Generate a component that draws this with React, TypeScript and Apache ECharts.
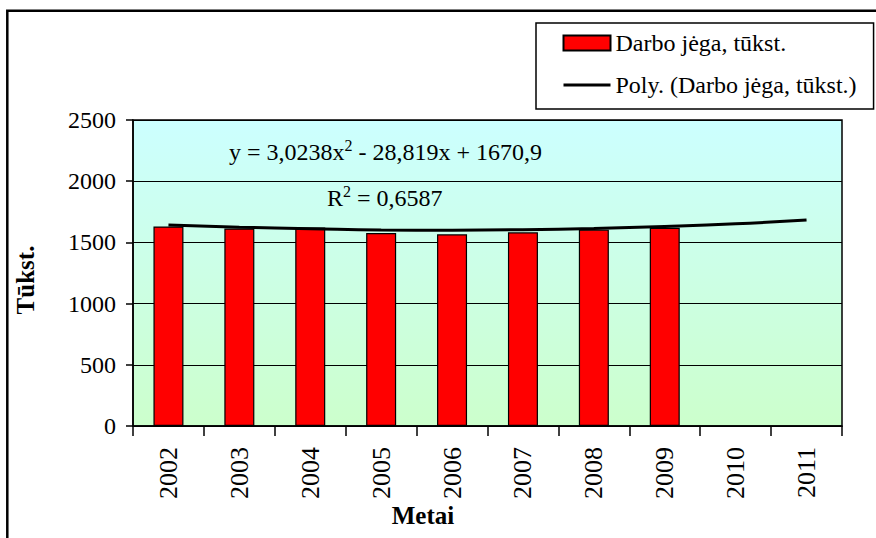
import React, { useEffect, useRef } from "react";
import * as echarts from "echarts";

const years = ["2002", "2003", "2004", "2005", "2006", "2007", "2008", "2009", "2010", "2011"];
const laborForce = [1630, 1614, 1622, 1577, 1566, 1582, 1604, 1620];
const trendValues = [1642, 1624, 1612, 1602, 1600, 1604, 1614, 1630, 1652, 1683];
const yMin = 0;
const yMax = 2500;
const yInterval = 500;

const barName = "Darbo jėga, tūkst.";
const lineName = "Poly. (Darbo jėga, tūkst.)";
const equationParts = ["y = 3,0238x", "2", " - 28,819x + 1670,9"];
const r2Parts = ["R", "2", " = 0,6587"];
const yTitle = "Tūkst.";
const xTitle = "Metai";

const FONT = "Liberation Serif";

export default function App() {
  const ref = useRef<HTMLDivElement>(null);

  useEffect(() => {
    document.body.style.margin = "0";
    if (!ref.current) return;
    const chart = echarts.init(ref.current, null, { renderer: "svg" });

    const richMain = { fontFamily: FONT, fontSize: 24, color: "#000", lineHeight: 30 };
    const richSup = { fontFamily: FONT, fontSize: 16, color: "#000", lineHeight: 16, verticalAlign: "top" };

    chart.setOption({
      animation: false,
      backgroundColor: "#fff",
      textStyle: { fontFamily: FONT },
      grid: {
        left: 133,
        top: 120,
        right: 34,
        bottom: 112,
        show: true,
        borderColor: "#000",
        borderWidth: 1.5,
        backgroundColor: new echarts.graphic.LinearGradient(0, 0, 0, 1, [
          { offset: 0, color: "#ccffff" },
          { offset: 1, color: "#ccffcc" },
        ]),
      },
      legend: {
        orient: "vertical",
        left: 536,
        top: 23,
        padding: [6, 17, 10, 26],
        itemGap: 14,
        itemWidth: 47,
        itemHeight: 15,
        backgroundColor: "#fff",
        borderColor: "#000",
        borderWidth: 1.5,
        selectedMode: false,
        textStyle: { fontFamily: FONT, fontSize: 24, color: "#000", lineHeight: 28 },
        data: [
          { name: barName, icon: "rect" },
          { name: lineName, itemStyle: { opacity: 0 }, lineStyle: { color: "#000", width: 3 } },
        ],
      },
      xAxis: {
        type: "category",
        data: years,
        boundaryGap: true,
        axisLine: { show: true, lineStyle: { color: "#000", width: 1.5 } },
        axisTick: { show: true, length: 10, interval: 0, lineStyle: { color: "#000", width: 1.5 } },
        axisLabel: {
          rotate: 90,
          interval: 0,
          margin: 21,
          fontFamily: FONT,
          fontSize: 26,
          color: "#000",
        },
        splitLine: { show: false },
      },
      yAxis: {
        type: "value",
        min: yMin,
        max: yMax,
        interval: yInterval,
        axisLine: { show: true, lineStyle: { color: "#000", width: 1.5 } },
        axisTick: { show: true, length: 7, lineStyle: { color: "#000", width: 1.5 } },
        axisLabel: {
          margin: 17,
          fontFamily: FONT,
          fontSize: 24,
          color: "#000",
          formatter: (v: number) => String(v),
        },
        splitLine: { show: true, lineStyle: { color: "#000", width: 1.2 } },
      },
      series: [
        {
          name: barName,
          type: "bar",
          data: laborForce,
          barWidth: 30,
          itemStyle: { color: "#ff0000", borderColor: "#000", borderWidth: 1.2 },
        },
        {
          name: lineName,
          type: "line",
          data: trendValues,
          smooth: true,
          symbol: "none",
          lineStyle: { color: "#000", width: 3 },
          itemStyle: { color: "#000" },
          z: 5,
        },
      ],
      graphic: [
        {
          type: "rect",
          silent: true,
          z: 100,
          shape: { x: 7.3, y: 10.7, width: 950, height: 650 },
          style: { fill: "none", stroke: "#000", lineWidth: 2.5 },
        },
        {
          type: "text",
          x: 229,
          y: 152,
          z: 50,
          style: {
            text: `{m|${equationParts[0]}}{s|${equationParts[1]}}{m|${equationParts[2]}}`,
            verticalAlign: "middle",
            align: "left",
            rich: { m: richMain, s: richSup },
          },
        },
        {
          type: "text",
          x: 327,
          y: 198,
          z: 50,
          style: {
            text: `{m|${r2Parts[0]}}{s|${r2Parts[1]}}{m|${r2Parts[2]}}`,
            verticalAlign: "middle",
            align: "left",
            rich: { m: richMain, s: richSup },
          },
        },
        {
          type: "text",
          x: 25,
          y: 280,
          rotation: Math.PI / 2,
          style: {
            text: yTitle,
            fontFamily: FONT,
            fontSize: 25,
            fontWeight: "bold",
            fill: "#000",
            align: "center",
            verticalAlign: "middle",
          },
        },
        {
          type: "text",
          x: 423,
          y: 515,
          style: {
            text: xTitle,
            fontFamily: FONT,
            fontSize: 25,
            fontWeight: "bold",
            fill: "#000",
            align: "center",
            verticalAlign: "middle",
          },
        },
      ],
    });

    return () => {
      chart.dispose();
    };
  }, []);

  return <div ref={ref} style={{ width: 876, height: 538 }} />;
}
